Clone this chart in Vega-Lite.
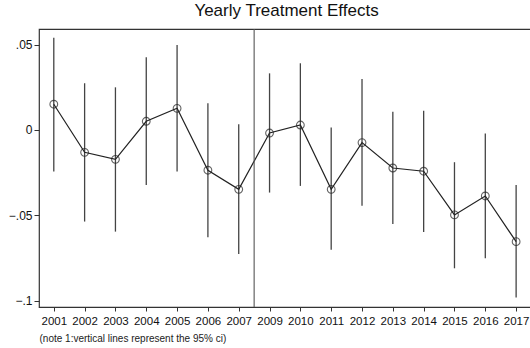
{
  "$schema": "https://vega.github.io/schema/vega-lite/v6.json",
  "autosize": "none",
  "width": 495,
  "height": 278,
  "padding": {"left": 39, "top": 29, "right": 0, "bottom": 41},
  "background": "white",
  "config": {
    "font": "Liberation Sans",
    "view": {"stroke": "#333333", "strokeWidth": 1.2},
    "axis": {"grid": false, "domain": false, "labelColor": "#111111", "tickColor": "#333333", "labelFont": "Liberation Sans"},
    "axisX": {"labelOverlap": false, "labelFlush": false}
  },
  "title": {"text": "Yearly Treatment Effects", "fontSize": 17, "fontWeight": "normal", "color": "#111111", "anchor": "middle", "offset": 8, "font": "Liberation Sans"},
  "data": {"values": [
    {"pos": 1, "year": "2001", "b": 0.0151, "lo": -0.0244, "hi": 0.054},
    {"pos": 2, "year": "2002", "b": -0.0131, "lo": -0.0537, "hi": 0.0274},
    {"pos": 3, "year": "2003", "b": -0.0172, "lo": -0.0596, "hi": 0.025},
    {"pos": 4, "year": "2004", "b": 0.0051, "lo": -0.0322, "hi": 0.0426},
    {"pos": 5, "year": "2005", "b": 0.0127, "lo": -0.0244, "hi": 0.0498},
    {"pos": 6, "year": "2006", "b": -0.0236, "lo": -0.0629, "hi": 0.0156},
    {"pos": 7, "year": "2007", "b": -0.0348, "lo": -0.0727, "hi": 0.0033},
    {"pos": 8, "year": "2009", "b": -0.0018, "lo": -0.0367, "hi": 0.0332},
    {"pos": 9, "year": "2010", "b": 0.0029, "lo": -0.0328, "hi": 0.0391},
    {"pos": 10, "year": "2011", "b": -0.0348, "lo": -0.0703, "hi": 0.0014},
    {"pos": 11, "year": "2012", "b": -0.0074, "lo": -0.0445, "hi": 0.0299},
    {"pos": 12, "year": "2013", "b": -0.0223, "lo": -0.0551, "hi": 0.0107},
    {"pos": 13, "year": "2014", "b": -0.0242, "lo": -0.0598, "hi": 0.0113},
    {"pos": 14, "year": "2015", "b": -0.0498, "lo": -0.0811, "hi": -0.0189},
    {"pos": 15, "year": "2016", "b": -0.0387, "lo": -0.0752, "hi": -0.002},
    {"pos": 16, "year": "2017", "b": -0.0655, "lo": -0.0983, "hi": -0.0322}
  ]},
  "layer": [
    {
      "mark": {"type": "rule", "color": "#444444", "strokeWidth": 1.3},
      "encoding": {
        "x": {"field": "pos", "type": "quantitative",
          "scale": {"domain": [0.52, 16.58], "nice": false, "zero": false},
          "axis": {"values": [1,2,3,4,5,6,7,8,9,10,11,12,13,14,15,16], "tickCount": 40,
            "labelExpr": "datum.value <= 7 ? '' + (2000 + datum.value) : '' + (2001 + datum.value)",
            "labelFontSize": 11.5, "labelOverlap": false, "tickSize": 4, "labelPadding": 4,
            "title": "(note 1:vertical lines represent the 95% ci)",
            "titleFontSize": 10, "titleFontWeight": "normal", "titleColor": "#222222",
            "titleAnchor": "start", "titleAlign": "left", "titlePadding": 7}},
        "y": {"field": "lo", "type": "quantitative",
          "scale": {"domain": [-0.1038, 0.0592], "nice": false, "zero": false},
          "axis": {"values": [-0.1, -0.05, 0, 0.05],
            "labelExpr": "datum.value == 0 ? '0' : replace(format(datum.value, '.2~f'), '0.', '.')",
            "labelFontSize": 12, "tickSize": 5, "labelPadding": 2, "title": null}},
        "y2": {"field": "hi"}
      }
    },
    {
      "mark": {"type": "line", "color": "#222222", "strokeWidth": 1.2},
      "encoding": {
        "x": {"field": "pos", "type": "quantitative"},
        "y": {"field": "b", "type": "quantitative"}
      }
    },
    {
      "mark": {"type": "point", "shape": "circle", "filled": false, "color": "#222222", "size": 60, "strokeWidth": 1.1},
      "encoding": {
        "x": {"field": "pos", "type": "quantitative"},
        "y": {"field": "b", "type": "quantitative"}
      }
    },
    {
      "data": {"values": [{"xline": 7.5}]},
      "mark": {"type": "rule", "color": "#555555", "strokeWidth": 1.1},
      "encoding": {"x": {"field": "xline", "type": "quantitative"}}
    }
  ]
}
